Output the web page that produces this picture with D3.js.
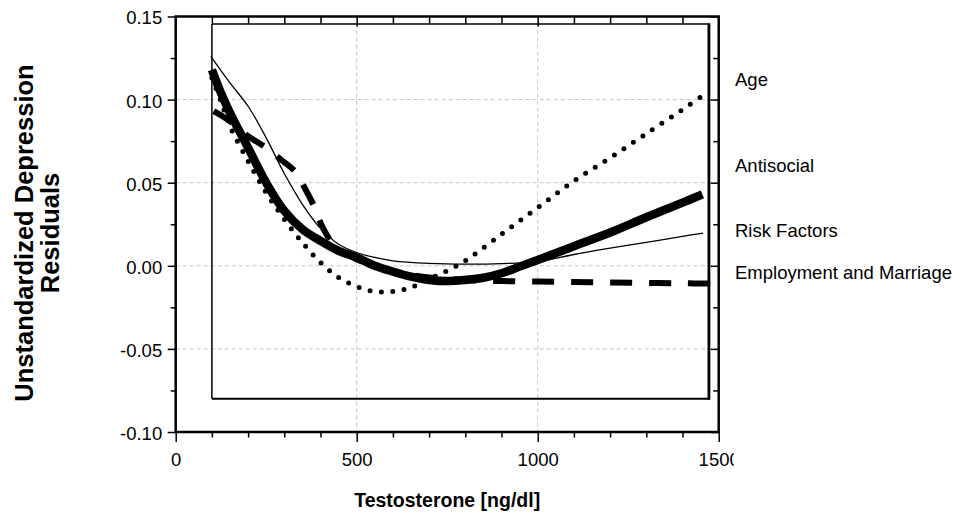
<!DOCTYPE html>
<html>
<head>
<meta charset="utf-8">
<script src="https://cdn.jsdelivr.net/npm/d3@7"></script>
<style>
  html, body { margin: 0; padding: 0; background: #fff; }
  svg { display: block; }
  text { font-family: "Liberation Sans", Arial, sans-serif; fill: #000; }
</style>
</head>
<body>
<svg id="chart" width="955" height="514"></svg>
<script>
// ---------------- data ----------------
const xMajorTicks = [0, 500, 1000, 1500];
const yMajorTicks = [-0.10, -0.05, 0.00, 0.05, 0.10, 0.15];
const xGrid = [500, 1000];
const yGrid = [-0.05, 0.00, 0.05, 0.10];
const seriesNames = ["Age", "Antisocial", "Risk Factors", "Employment and Marriage"];

const ageT = [100,125,150,200,250,300,350,400,450,500,550,600,650,700,750,800,900,1000,1100,1200,1300,1400,1460];
const ageR = [0.113,0.099,0.084,0.063,0.044,0.028,0.014,0.002,-0.007,-0.0125,-0.0155,-0.0155,-0.013,-0.008,-0.003,0.003,0.019,0.035,0.051,0.065,0.0795,0.094,0.103];

const antisocialT = [100,125,150,200,250,300,350,400,450,500,550,600,650,700,750,800,850,900,950,1000,1100,1200,1300,1400,1455];
const antisocialR = [0.118,0.104,0.092,0.071,0.050,0.033,0.022,0.015,0.009,0.005,0.000,-0.0035,-0.0065,-0.0085,-0.0092,-0.0085,-0.0072,-0.0045,-0.0005,0.0035,0.0118,0.020,0.0292,0.038,0.043];

const riskT = [97,150,200,250,300,350,400,450,500,550,600,700,800,900,1000,1100,1200,1300,1400,1457];
const riskR = [0.126,0.110,0.096,0.077,0.0555,0.037,0.0225,0.013,0.008,0.005,0.003,0.0015,0.001,0.0013,0.0025,0.0068,0.0106,0.0141,0.0177,0.0197];

const employT = [105,150,200,250,290,333,356,384,402,425,450,500,550,600,650,700,800,900,1000,1100,1200,1300,1400,1484];
const employR = [0.093,0.087,0.078,0.071,0.064,0.056,0.047,0.035,0.025,0.016,0.010,0.004,0.000,-0.0035,-0.0055,-0.007,-0.0085,-0.0092,-0.0095,-0.0098,-0.0100,-0.0103,-0.0105,-0.0107];

// inner frame extent (data units)
const innerX = [100, 1473];
const innerY = [-0.08, 0.1455];

// ---------------- layout ----------------
const svg = d3.select("#chart");
const x = d3.scaleLinear().domain([0, 1500]).range([175.7, 718.7]);
const y = d3.scaleLinear().domain([-0.10, 0.15]).range([432, 16.5]);
const [x0, x1] = x.range();
const [y0, y1] = y.range();
const fmt = v => (v < -1e-9 ? "-" : "") + Math.abs(v).toFixed(2);

// grid
const grid = svg.append("g").attr("stroke", "#c4c4c4").attr("stroke-width", 1).attr("stroke-dasharray", "4,3");
grid.selectAll("line.h").data(yGrid).join("line").attr("class", "h")
  .attr("x1", x0).attr("x2", x1).attr("y1", d => y(d)).attr("y2", d => y(d));
grid.selectAll("line.v").data(xGrid).join("line").attr("class", "v")
  .attr("y1", y1).attr("y2", y0).attr("x1", d => x(d)).attr("x2", d => x(d));

// inner frame
const inner = svg.append("g").attr("stroke", "#000").attr("fill", "none");
inner.append("line").attr("x1", x(innerX[0])).attr("x2", x(innerX[0])).attr("y1", y(innerY[1])).attr("y2", y(innerY[0])).attr("stroke-width", 1.5);
inner.append("line").attr("x1", x(innerX[0])).attr("x2", x(innerX[1])).attr("y1", y(innerY[1])).attr("y2", y(innerY[1])).attr("stroke-width", 1.5);
inner.append("line").attr("x1", x(innerX[0])).attr("x2", x(innerX[1]) + 1).attr("y1", y(innerY[0])).attr("y2", y(innerY[0])).attr("stroke-width", 2);
inner.append("line").attr("x1", x(innerX[1])).attr("x2", x(innerX[1])).attr("y1", y(innerY[1]) - 0.7).attr("y2", y(innerY[0]) + 1).attr("stroke-width", 2.8);

// curves
const line = d3.line().x(d => x(d[0])).y(d => y(d[1])).curve(d3.curveCatmullRom.alpha(0.5));
const zip = (a, b) => a.map((v, i) => [v, b[i]]);

svg.append("path").datum(zip(riskT, riskR)).attr("d", line)
  .attr("fill", "none").attr("stroke", "#000").attr("stroke-width", 1.3);
svg.append("path").datum(zip(antisocialT, antisocialR)).attr("d", line)
  .attr("fill", "none").attr("stroke", "#000").attr("stroke-width", 8.5);
svg.append("path").datum(zip(employT, employR)).attr("d", line)
  .attr("fill", "none").attr("stroke", "#000").attr("stroke-width", 6)
  .attr("stroke-dasharray", "22,17");
svg.append("path").datum(zip(ageT, ageR)).attr("d", line)
  .attr("fill", "none").attr("stroke", "#000").attr("stroke-width", 5)
  .attr("stroke-linecap", "round").attr("stroke-dasharray", "0,11.4");

// axes ticks
const minorX = d3.range(0, 1501, 100).filter(v => !xMajorTicks.includes(v));
const minorY = d3.range(-0.1, 0.1501, 0.025).map(v => +v.toFixed(3)).filter(v => !yMajorTicks.some(t => Math.abs(t - v) < 1e-6));

function styleAxis(g) {
  g.select(".domain").remove();
  g.selectAll(".tick line").attr("stroke", "#000").attr("stroke-width", 1.5);
  g.selectAll("text").style("font-size", "18.5px").attr("fill", "#000");
}

// bottom
svg.append("g").attr("transform", `translate(0,${y0})`)
  .call(d3.axisBottom(x).tickValues(minorX).tickSize(5.5).tickFormat("")).call(styleAxis);
const bottomMajor = svg.append("g").attr("transform", `translate(0,${y0})`)
  .call(d3.axisBottom(x).tickValues(xMajorTicks).tickSize(10).tickPadding(11).tickFormat(d3.format("d"))).call(styleAxis);
svg.append("clipPath").attr("id", "xlabclip").append("rect").attr("x", 0).attr("y", 0).attr("width", 734).attr("height", 514);
bottomMajor.attr("clip-path", "url(#xlabclip)");

// left
svg.append("g").attr("transform", `translate(${x0},0)`)
  .call(d3.axisLeft(y).tickValues(minorY).tickSize(5).tickFormat("")).call(styleAxis);
const leftMajor = svg.append("g").attr("transform", `translate(${x0},0)`)
  .call(d3.axisLeft(y).tickValues(yMajorTicks).tickSize(8).tickPadding(5.5).tickFormat(fmt)).call(styleAxis);
leftMajor.selectAll("text").attr("dy", "0.40em");

// top (inward)
svg.append("g").attr("transform", `translate(0,${y1})`)
  .call(d3.axisTop(x).tickValues(minorX).tickSize(-7).tickFormat("")).call(styleAxis);
svg.append("g").attr("transform", `translate(0,${y1})`)
  .call(d3.axisTop(x).tickValues(xMajorTicks).tickSize(-10).tickFormat("")).call(styleAxis);

// right (inward)
svg.append("g").attr("transform", `translate(${x1},0)`)
  .call(d3.axisRight(y).tickValues(minorY).tickSize(-5.5).tickFormat("")).call(styleAxis);
svg.append("g").attr("transform", `translate(${x1},0)`)
  .call(d3.axisRight(y).tickValues(yMajorTicks).tickSize(-8).tickFormat("")).call(styleAxis);

// outer frame
svg.append("rect").attr("x", x0).attr("y", y1).attr("width", x1 - x0).attr("height", y0 - y1)
  .attr("fill", "none").attr("stroke", "#000").attr("stroke-width", 2.5);

// series labels
const labelBaselines = [86, 172, 237, 278.5];
svg.append("g").selectAll("text").data(seriesNames).join("text")
  .attr("x", 735).attr("y", (d, i) => labelBaselines[i])
  .style("font-size", "18.5px").text(d => d);

// axis titles
svg.append("text").attr("x", (x0 + x1) / 2).attr("y", 507).attr("text-anchor", "middle")
  .style("font-size", "19.5px").style("font-weight", "bold").text("Testosterone [ng/dl]");
const yt = svg.append("text").attr("transform", "translate(33,233) rotate(-90)").attr("text-anchor", "middle")
  .style("font-size", "25.5px").style("font-weight", "bold");
yt.append("tspan").attr("x", 0).attr("y", 0).text("Unstandardized Depression");
yt.append("tspan").attr("x", 0).attr("y", 25.5).text("Residuals");
</script>
</body>
</html>
